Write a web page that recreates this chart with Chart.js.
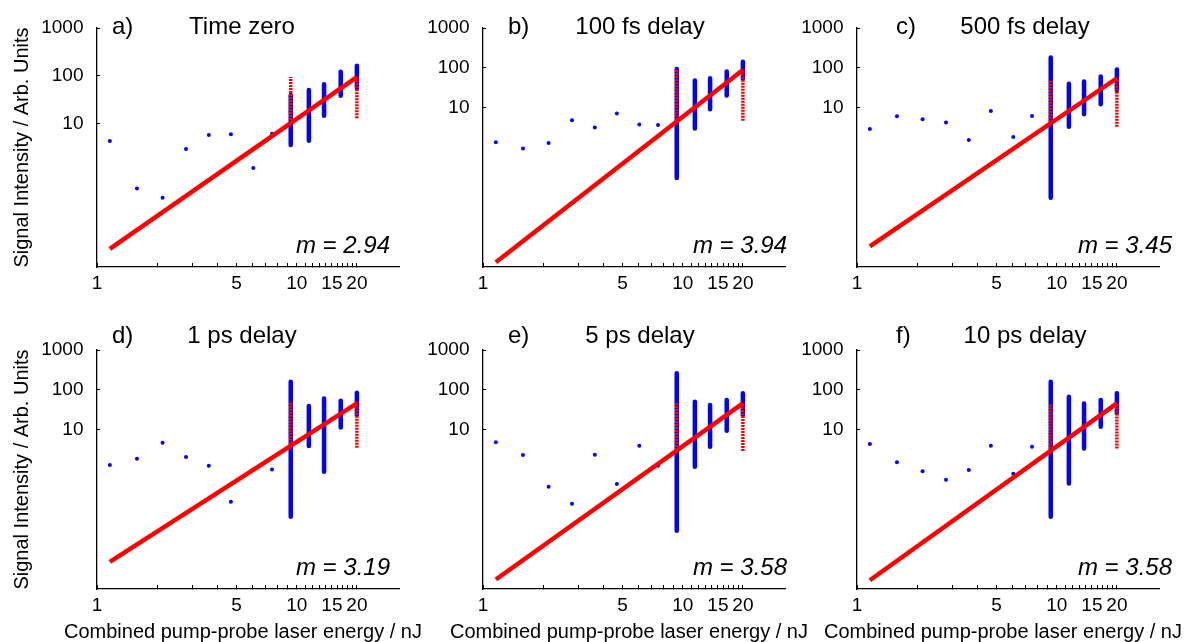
<!DOCTYPE html>
<html>
<head>
<meta charset="utf-8">
<script src="https://cdn.jsdelivr.net/npm/chart.js@4"></script>
<style>
  html, body { margin: 0; padding: 0; background: #fff; width: 1192px; height: 642px; overflow: hidden; }
  .panel { position: absolute; width: 440px; height: 322px; }
</style>
</head>
<body>
<script>
// combined pump-probe energy (nJ), same for every panel
const lowEnergies = [1.16, 1.585, 2.13, 2.79, 3.63, 4.68, 6.06, 7.52];
const highEnergies = [9.33, 11.5, 13.7, 16.6, 20];
const fitEnergies = [1.16, 20];

const panelLetters = ['a)', 'b)', 'c)', 'd)', 'e)', 'f)'];
const panelTitles = ['Time zero', '100 fs delay', '500 fs delay', '1 ps delay', '5 ps delay', '10 ps delay'];
const slopes = ['2.94', '3.94', '3.45', '3.19', '3.58', '3.58'];
const yMins = [0.01, 0.001, 0.001, 0.001, 0.001, 0.001];
const xTitle = 'Combined pump-probe laser energy / nJ';
const yTitle = 'Signal Intensity / Arb. Units';

// signal at the low energies (single points)
const lowSignal = [
    [4.3, 0.44, 0.28, 2.94, 5.8, 5.97, 1.18, 6.15],
    [1.36, 0.94, 1.30, 4.86, 3.2, 7.13, 3.8, 3.65],
    [2.9, 6.1, 5.14, 4.25, 1.55, 8.28, 1.84, 6.2],
    [1.29, 1.86, 4.7, 2.05, 1.24, 0.155, 0.98, 1.0],
    [4.8, 2.3, 0.368, 0.138, 2.34, 0.43, 3.94, 1.25],
    [4.35, 1.53, 0.91, 0.55, 0.97, 3.94, 0.78, 3.7]
];
// spread of the signal at the high energies
const barLow = [
    [3.57, 4.38, 14.6, 38.4, 54.7],
    [0.172, 3.02, 9.1, 20.3, 53],
    [0.0548, 3.3, 6.85, 12.2, 27.1],
    [0.065, 3.87, 0.88, 11.4, 23.3],
    [0.029, 1.17, 3.7, 9.4, 23.3],
    [0.065, 0.447, 3.39, 11.8, 25.7]
];
const barHigh = [
    [39.6, 50.5, 66.4, 122, 163],
    [93.8, 48, 54.8, 80.4, 142.6],
    [182, 39.8, 45.4, 60.4, 90.2],
    [160, 39.2, 61, 53.3, 84.7],
    [259, 50.2, 41.5, 55.4, 81.5],
    [160, 67.1, 45.7, 55.4, 81.5]
];
// power law fit end points
const fitSignal = [
    [0.024, 94],
    [0.00132, 88.5],
    [0.0033, 54.8],
    [0.0048, 45.7],
    [0.00173, 45.7],
    [0.00166, 45.7]
];
// dotted ranges at the first and last high energy [low, high]
const dottedFirst = [[11.9, 94], [4.86, 93.8], [4.4, 48], [3.7, 50], [3.07, 45.7], [3.39, 45.7]];
const dottedLast = [[12.9, 95.7], [4.7, 93.8], [3.3, 53], [3.5, 50], [2.9, 45.7], [3.39, 45.7]];

const xTicks = [1, 2, 3, 4, 5, 6, 7, 8, 9, 10, 11, 12, 13, 14, 15, 16, 17, 18, 19, 20];
const xTickLabels = [1, 5, 10, 15, 20];
const yTicks = [10, 100, 1000];

// layout
const colLeft = [0, 386, 760];
const rowTop = [0, 322];
const letterDx = [15, 25, 39];
const titleDx = [145, 157, 168];
const slopeDx = [293, 304, 315];
const titleDy = [5.5, -7];

const FONT = '"Liberation Sans", Arial, sans-serif';
Chart.defaults.font.family = FONT;
Chart.defaults.color = '#000';

const panelText = {
    id: 'panelText',
    afterDraw(chart, args, opts) {
        const { ctx, chartArea } = chart;
        ctx.save();
        ctx.fillStyle = '#000';
        ctx.textBaseline = 'alphabetic';
        ctx.font = '24px ' + FONT;
        const y = chartArea.top + opts.titleDy;
        ctx.textAlign = 'left';
        ctx.fillText(opts.letter, chartArea.left + opts.letterDx, y);
        ctx.textAlign = 'center';
        ctx.fillText(opts.title, chartArea.left + opts.titleDx, y);
        ctx.font = 'italic 24px ' + FONT;
        ctx.textAlign = 'right';
        ctx.fillText('m = ' + opts.slope, chartArea.left + opts.slopeDx, chartArea.bottom - 14);

        // axis titles (drawn here so they are not squeezed to the plot width)
        ctx.font = '20px ' + FONT;
        ctx.textBaseline = 'middle';
        ctx.textAlign = 'center';
        if (opts.xTitle) {
            ctx.fillText(opts.xTitle, (chartArea.left + chartArea.right) / 2 - 5, chartArea.bottom + 43);
        }
        if (opts.yTitle) {
            ctx.translate(chartArea.left - 75, (chartArea.top + chartArea.bottom) / 2);
            ctx.rotate(-Math.PI / 2);
            ctx.fillText(opts.yTitle, 0, 0);
        }
        ctx.restore();
    }
};

function segments(xs, lows, highs) {
    const pts = [];
    xs.forEach((x, i) => {
        pts.push({ x: x, y: lows[i] }, { x: x, y: highs[i] }, { x: x, y: null });
    });
    return pts;
}

window.addEventListener('DOMContentLoaded', () => {
    for (let i = 0; i < 6; i++) {
        const col = i % 3;
        const row = Math.floor(i / 3);

        const holder = document.createElement('div');
        holder.className = 'panel';
        holder.style.left = colLeft[col] + 'px';
        holder.style.top = rowTop[row] + 'px';
        const canvas = document.createElement('canvas');
        canvas.width = 440;
        canvas.height = 322;
        holder.appendChild(canvas);
        document.body.appendChild(holder);

        const last = highEnergies.length - 1;
        const datasets = [
            {
                label: 'fit',
                data: fitEnergies.map((x, k) => ({ x: x, y: fitSignal[i][k] })),
                showLine: true, borderColor: '#ff0000', borderWidth: 4.5,
                pointRadius: 0
            },
            {
                label: 'fit range',
                data: segments([highEnergies[0], highEnergies[last]],
                    [dottedFirst[i][0], dottedLast[i][0]],
                    [dottedFirst[i][1], dottedLast[i][1]]),
                showLine: true, borderColor: '#ff0000', borderWidth: 3.5,
                borderDash: [2, 1], pointRadius: 0
            },
            {
                label: 'high energy',
                data: segments(highEnergies, barLow[i], barHigh[i]),
                showLine: true, borderColor: '#0000ff', borderWidth: 4.5,
                borderCapStyle: 'round', pointRadius: 0
            },
            {
                label: 'low energy',
                data: lowEnergies.map((x, k) => ({ x: x, y: lowSignal[i][k] })),
                showLine: false, backgroundColor: '#0000ff', borderWidth: 0,
                pointRadius: 2
            }
        ];

        new Chart(canvas.getContext('2d'), {
            type: 'scatter',
            data: { datasets: datasets },
            options: {
                responsive: false,
                animation: false,
                events: [],
                layout: { padding: { left: 0, top: 28, right: 41, bottom: 0 } },
                plugins: {
                    legend: { display: false },
                    tooltip: { enabled: false },
                    panelText: {
                        letter: panelLetters[i], title: panelTitles[i], slope: slopes[i],
                        letterDx: letterDx[col], titleDx: titleDx[col], slopeDx: slopeDx[col],
                        titleDy: titleDy[row],
                        xTitle: row === 1 ? xTitle : '',
                        yTitle: col === 0 ? yTitle : ''
                    }
                },
                scales: {
                    x: {
                        type: 'logarithmic', min: 1, max: 32.5,
                        afterBuildTicks: s => { s.ticks = xTicks.map(v => ({ value: v })); },
                        afterFit: s => { s.height = 55; },
                        ticks: {
                            autoSkip: false, maxRotation: 0, minRotation: 0, padding: 9,
                            color: '#000', font: { size: 19 },
                            callback: v => xTickLabels.includes(v) ? String(v) : ''
                        },
                        grid: { drawOnChartArea: false, drawTicks: true, tickLength: -4, tickColor: '#000', tickWidth: 1 },
                        border: { display: true, color: '#000', width: 1.3 }
                    },
                    y: {
                        type: 'logarithmic', min: yMins[i], max: 1000,
                        afterBuildTicks: s => { s.ticks = yTicks.map(v => ({ value: v })); },
                        afterFit: s => { s.width = 97; },
                        ticks: { padding: 16.5, color: '#000', font: { size: 19 }, callback: v => String(v) },
                        grid: { drawOnChartArea: false, drawTicks: true, tickLength: -3, tickColor: '#000', tickWidth: 1 },
                        border: { display: true, color: '#000', width: 1.3 }
                    }
                }
            },
            plugins: [panelText]
        });
    }
});
</script>
</body>
</html>
